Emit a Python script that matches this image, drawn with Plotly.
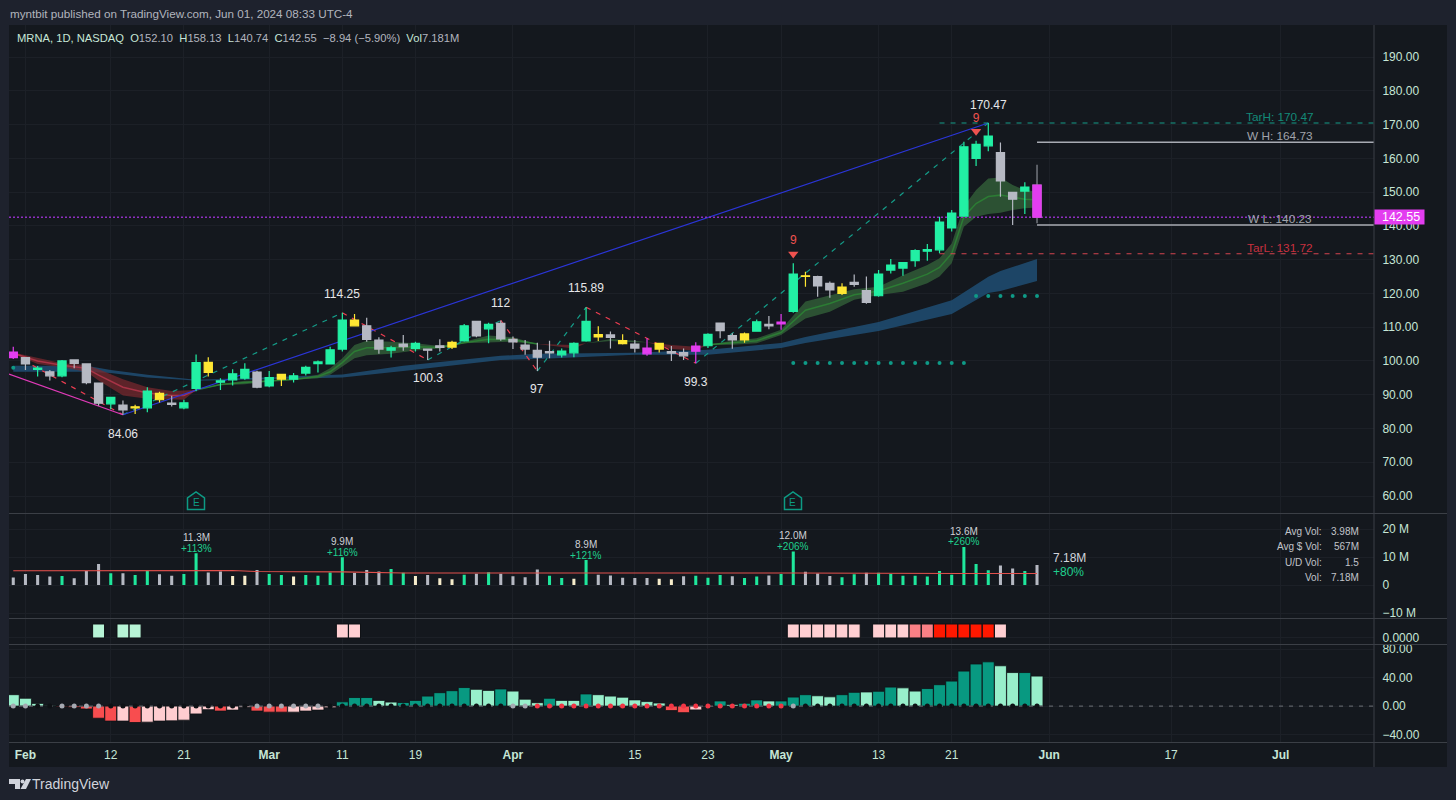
import plotly.graph_objects as go

W, H = 1456, 800
def px(x): return x / W
def py(y): return 1 - y / H

# ---------- data ----------
body_top = [102.6,101.0,97.9,96.8,100.0,100.3,99.1,93.4,89.2,86.9,86.4,91.1,90.4,87.5,87.6,99.5,99.6,94.1,96.2,97.5,96.7,95.1,96.0,95.6,98.1,99.7,103.3,
            112.1,112.1,110.4,106.2,103.9,105.0,105.2,103.5,104.5,105.5,110.4,111.7,110.8,111.1,106.4,104.7,103.1,102.8,102.9,105.2,111.7,107.8,107.7,106.0,105.0,103.8,105.2,102.8,102.5,104.4,
            107.9,111.2,107.5,108.0,111.6,110.8,111.5,125.7,125.2,125.0,123.0,121.9,123.3,120.8,125.7,128.4,129.1,132.7,133.0,141.1,143.8,163.4,164.1,166.6,161.7,149.9,151.5,152.1]
body_bot = [101.0,99.1,97.5,95.6,95.6,99.3,93.6,87.5,87.3,85.5,86.1,86.1,88.5,87.1,86.1,91.9,96.6,93.7,94.4,94.9,92.2,92.6,94.6,94.6,96.4,99.2,99.1,
            103.5,110.4,106.4,103.5,103.2,104.2,103.7,103.2,104.0,104.1,105.9,107.4,109.5,106.5,105.6,103.5,101.1,102.4,101.8,102.4,105.9,107.1,107.0,105.1,103.8,102.1,103.5,102.3,101.5,102.9,
            104.5,109.0,106.2,106.2,108.8,110.4,111.0,114.7,125.0,122.2,121.0,120.0,122.7,117.3,119.3,126.9,127.5,129.7,132.5,132.9,139.4,142.9,160.0,163.7,153.3,147.9,150.3,142.55]
highs = [104.2,101.1,98.5,97.3,100.3,100.5,99.3,93.6,89.3,88.3,87.0,92.2,90.9,89.7,88.5,101.9,101.1,94.9,97.5,99.3,97.1,97.0,96.1,96.4,98.6,100.1,104.2,
         114.25,113.9,112.8,107.0,104.5,107.7,105.7,103.7,106.4,106.0,110.9,111.8,111.3,112.0,107.2,106.2,105.4,106.0,103.7,105.5,115.89,110.3,108.7,107.9,106.2,106.7,105.2,104.4,103.7,105.5,
         108.2,111.4,108.2,108.4,112.3,113.3,113.9,128.9,126.4,125.2,123.5,123.0,125.6,125.0,126.9,130.2,129.1,133.1,134.6,142.7,144.7,164.9,165.2,170.47,164.7,150.1,152.9,158.13]
lows = [100.6,97.3,95.4,94.2,95.2,97.8,93.1,86.7,85.7,84.06,84.3,84.8,87.7,86.5,85.7,91.0,95.4,91.4,92.7,94.4,91.9,92.2,92.6,93.6,95.7,96.6,99.1,
        102.8,110.2,105.7,102.1,101.0,103.0,102.8,100.3,102.8,103.5,105.7,107.0,105.2,106.0,103.5,101.8,97.0,100.8,101.0,101.1,105.7,105.9,103.7,104.9,102.5,101.5,102.5,100.0,100.3,99.3,
        103.8,106.7,103.6,105.4,108.7,109.4,109.2,114.3,122.0,119.0,118.7,119.5,122.0,116.9,119.0,125.9,125.2,127.9,129.7,131.9,138.3,142.9,157.7,162.1,148.6,140.23,143.5,140.74]
candle_kind = [
    "m","s","g","s","g","s","s","s","g","s","y","g","y","s","g","g","y","g","g","g","s","g","y","g","g","g","g",
    "g","y","s","s","g","s","g","s","s","y","g","s","g","s","s","s","s","s","g","g","g","y","s","y","s","m","y","s","s","m",
    "g","s","s","y","g","s","m","g","y","s","s","y","s","s","g","g","g","g","g","g","g","g","g","g","s","s","g","m"]

volume_m = [2.7,3.9,3.6,3.0,3.2,2.4,5.0,7.5,4.2,4.2,3.6,5.1,3.8,3.3,3.9,11.3,4.5,4.8,3.2,3.3,5.4,3.9,3.6,3.0,3.6,3.3,4.5,9.9,4.3,5.4,4.8,5.7,4.4,3.2,3.6,2.4,2.1,3.7,4.0,4.6,4.0,3.1,
            2.8,5.5,3.3,2.5,2.2,8.9,3.7,3.4,2.6,2.5,2.5,2.2,2.1,3.1,3.3,2.6,3.6,3.1,2.5,3.0,3.4,3.9,12.0,4.7,4.1,3.2,2.8,3.8,4.4,4.4,3.9,3.3,3.3,3.0,5.0,3.7,13.6,7.5,5.3,7.0,5.9,5.0,7.18]
volume_kind = ["s","s","s","s","g","s","s","s","g","s","g","g","s","s","g","g","s","s","c","c","s","g","g","c","g","g","g","g","s","s","s","g","g","c","s","c","c","g","s","g","s","s",
               "s","s","g","g","c","g","s","s","s","s","s","c","c","s","g","g","g","s","g","g","s","g","g","s","s","s","g","g","s","g","g","g","g","g","g","g","g","g","g","s","s","g","s"]
avg_vol_x = [0,15,18,20,27,32,47,64,78,84]
avg_vol_m = [5.1,5.4,5.2,4.8,4.7,4.3,4.4,4.3,4.1,4.1]

vol_notes_x = [15,27,47,64,78]
vol_notes_size = ["11.3M","9.9M","8.9M","12.0M","13.6M"]
vol_notes_pct = ["+113%","+116%","+121%","+206%","+260%"]
vol_notes_y = [11.3,9.9,8.9,12.0,13.6]

heat_x = [7,9,10,27,28,64,65,66,67,68,69,71,72,73,74,75,76,77,78,79,80,81]
heat_kind = ["a","a","a","p","p","p","p","p","p","p","p","p","p","p","m","m","r","r","r","r","r","p"]

momentum = [16,11,3.8,1,-1,-2,-4,-17,-21,-21,-23,-22.5,-21,-20.7,-19.7,-11,-5,-7,-5.6,-2,-7,-8.5,-8.5,-8.5,-7,-5.6,-2.3,
            6,12,12,8,5.6,5,8,14,18.8,21.6,26,23.5,22,24,21,
            9.7,4.8,11,8,8,17,16,14,12.5,8.7,6.3,4.3,-6.3,-9.2,-5.3,-0.8,7.2,2.4,3.9,8.7,7.2,7.2,12.6,16,14.5,13,16,19.3,19.8,20.8,26.6,25.6,21,24.6,30,35,49,59,62,56.5,47,47,42]
momentum_kind = ["l","l","l","l","r","r","r","r","r","p","r","p","p","p","p","p","p","r","p","p","r","r","r","p","p","p","p",
                 "d","d","d","l","l","d","d","d","d","d","d","l","l","d","l",
                 "l","l","d","l","l","d","l","l","l","l","l","l","r","r","p","p","d","l","d","d","l","d","d","d","l","l","d","d","l","d","d","l","l","d","d","d","d","d","d","l","l","d","l"]
dot_gray_x = [0,1,4,5,6,7,20,21,22,23,24,25,41,42,64]
dot_red_x = list(range(43,64))
dot_black_x = [2,3,8,9,10,11,12,13,14,15,16,17,18,19,26,27,28,29,30,31,32,33,34,35,36,37,38,39,40,65,66,67,68,69,70,71,72,73,74,75,76,77,78,79,80,81,82,83,84]

blue_x = [0,6,8,11,14,15,20,27,32,40,43,51,57,63,65,71,77,80,81,84]
blue_up = [98.6,98.6,97.3,95.9,94.8,94.4,95.0,96.0,98.6,101.5,102.1,102.4,103.3,105.3,107.1,111.5,118.0,124.9,126.6,130.2]
blue_lo = [96.8,96.8,96.4,95.1,94.4,94.1,94.5,95.1,97.0,100.3,100.6,101.8,101.8,103.8,105.3,108.9,113.9,120.1,120.7,123.7]

red1_x = [0,2,4,6,7,9,11,13,14,15]
red1_up = [102.5,100.8,99.3,98.8,97.5,94.6,92.2,91.1,91.2,91.4]
red1_lo = [102.1,99.1,98.1,96.8,94.2,89.8,88.8,88.5,88.5,91.4]
red1_mid = [102.3,100.0,98.7,97.8,95.8,92.2,90.5,89.8,89.8,91.4]
red2_x = [43,46,47]
red2_up = [105.0,104.7,105.2]
red2_lo = [105.0,103.7,105.2]
red3_x = [52,54,56,57]
red3_up = [105.5,104.7,104.2,104.8]
red3_lo = [105.5,103.5,103.1,104.8]

green1_x = [15,17,19,21,23,25,26,27,28,29,31,33,35,37,39,41,42,43]
green1_up = [91.4,93.2,94.1,94.2,94.6,95.9,97.8,100.8,104.7,106.0,105.7,105.2,104.4,105.7,107.5,107.0,106.0,105.0]
green1_lo = [91.4,92.8,93.1,93.9,94.4,94.9,95.9,98.3,100.8,101.7,102.1,103.1,103.7,105.2,105.4,105.7,105.2,105.0]
green1_mid = [91.4,93.0,93.6,94.0,94.5,95.4,96.8,99.5,102.8,103.9,103.9,104.2,104.0,105.4,106.4,106.3,105.6,105.0]
green2_x = [47,49,51,52]
green2_up = [105.2,106.5,106.0,105.5]
green2_lo = [105.2,105.9,105.5,105.5]
green3_x = [57,59,61,63,65,67,69,71,73,75,76,77,78,79,80,81,82,83,84]
green3_up = [104.8,106.0,106.7,109.2,117.6,119.5,121.2,122.0,125.4,128.4,130.4,134.8,145.7,150.6,154.0,154.3,152.1,150.6,150.1]
green3_lo = [104.8,104.8,105.2,107.7,112.6,114.6,118.1,119.5,120.5,123.0,125.0,128.9,139.7,142.7,143.5,143.9,144.7,145.2,145.4]
green3_mid = [104.8,105.4,106.0,108.4,115.0,117.0,119.6,120.7,123.0,125.7,127.7,131.8,142.7,146.6,148.7,149.1,148.4,147.9,147.7]

pivot_up = [[9,27,84.06,114.25],[34,40,100.3,112.0],[43,47,97.0,115.89],[56,80,99.3,170.47]]
pivot_dn = [[0,9,101.8,84.06],[27,34,114.25,100.3],[40,43,112.0,97.0],[47,56,115.89,99.3]]
trend_x = [9,80]
trend_y = [84.06,170.47]
fall_x = [-0.35,9]
fall_y = [96.1,84.06]

dots_x = [0]+list(range(64,79))+list(range(79,85))
dots_y = [98.0]+[99.4]*15+[119.2]*6

X_MIN, X_MAX = -0.35, 111.65

month_ticks = [1,8,14,21,27,33,41,51,57,63,71,77,85,95,104]
month_text = ["<b>Feb</b>","12","21","<b>Mar</b>","11","19","<b>Apr</b>","15","23","<b>May</b>","13","21","<b>Jun</b>","17","<b>Jul</b>"]
price_ticks = [60,70,80,90,100,110,120,130,140,150,160,170,180,190]
pivot_labels = [(9,84.06,"84.06",-19),(27,114.25,"114.25",19),(34,100.3,"100.3",-18),(40,112.0,"112",17),(43,97.0,"97",-18),(47,115.89,"115.89",19),(56,99.3,"99.3",-19),(80,170.47,"170.47",18)]

# ---------- style ----------
FONT = "Liberation Sans, Arial, sans-serif"
OUTER, PANEL, GRID, SEP = "#1e222d", "#14181e", "#1c2027", "#3b3f46"
AXTXT = "#c6e6d6"
GREEN, GRAY, YELLOW, MAGENTA, CREAM = "#22f0a4", "#b6b9c3", "#ffe733", "#e33df0", "#f6eccb"
CANDLE = {"g": GREEN, "s": GRAY, "y": YELLOW, "m": MAGENTA}
VOLC = {"g": "#1fe79c", "s": GRAY, "c": CREAM}
HEATC = {"a": "#b7f4d6", "p": "#ffcfd2", "m": "#fa8085", "r": "#ff1800"}
MOMC = {"l": "#98efcb", "d": "#089981", "r": "#f84d4f", "p": "#ffcdd0"}
DUP, DDN = "#149c88", "#f03e52"

fig = go.Figure()

def ribbon(x, up, lo, fill, yaxis="y"):
    fig.add_trace(go.Scatter(x=x, y=up, mode="lines", line=dict(width=0, color=fill), hoverinfo="skip", showlegend=False, yaxis=yaxis))
    fig.add_trace(go.Scatter(x=x, y=lo, mode="lines", line=dict(width=0, color=fill), fill="tonexty", fillcolor=fill, hoverinfo="skip", showlegend=False, yaxis=yaxis))

ribbon(blue_x, blue_up, blue_lo, "rgba(31,81,120,0.8)")
REDF, GREENF = "rgba(122,40,46,0.72)", "rgba(54,104,60,0.72)"
ribbon(red1_x, red1_up, red1_lo, REDF)
ribbon(red2_x, red2_up, red2_lo, REDF)
ribbon(red3_x, red3_up, red3_lo, REDF)
ribbon(green1_x, green1_up, green1_lo, GREENF)
ribbon(green2_x, green2_up, green2_lo, GREENF)
ribbon(green3_x, green3_up, green3_lo, GREENF)
for xs, ys, c in [(red1_x, red1_mid, "#a83346"), (green1_x, green1_mid, "#2c7c34"), (green3_x, green3_mid, "#2c7c34")]:
    fig.add_trace(go.Scatter(x=xs, y=ys, mode="lines", line=dict(color=c, width=1.5), hoverinfo="skip", showlegend=False))

for p in pivot_up:
    fig.add_trace(go.Scatter(x=p[:2], y=p[2:], mode="lines", line=dict(color=DUP, width=1.2, dash="5px,6px"), hoverinfo="skip", showlegend=False))
for p in pivot_dn:
    fig.add_trace(go.Scatter(x=p[:2], y=p[2:], mode="lines", line=dict(color=DDN, width=1.2, dash="5px,6px"), hoverinfo="skip", showlegend=False))
fig.add_trace(go.Scatter(x=trend_x, y=trend_y, mode="lines", line=dict(color="#2b35d8", width=1.2), hoverinfo="skip", showlegend=False))
fig.add_trace(go.Scatter(x=fall_x, y=fall_y, mode="lines", line=dict(color="#e03ab8", width=1.2), hoverinfo="skip", showlegend=False))
fig.add_trace(go.Scatter(x=dots_x, y=dots_y, mode="markers", marker=dict(color="#0f9a87", size=4), hoverinfo="skip", showlegend=False))

# horizontal levels
levels = [(76, X_MAX, 170.47, "#149c88", "5px,6px", 1.1), (76, X_MAX, 131.72, "#d2434f", "5px,6px", 1.1),
          (84, X_MAX, 164.73, "#a8abb3", "solid", 1.5), (84, X_MAX, 140.23, "#a8abb3", "solid", 1.5),
          (X_MIN, X_MAX, 142.55, "#8e2fc0", "2px,2px", 1.4)]
for x0, x1, v, c, d, w in levels:
    fig.add_trace(go.Scatter(x=[x0, x1], y=[v, v], mode="lines", line=dict(color=c, width=w, dash=d), hoverinfo="skip", showlegend=False))

# candles, on an overlay axis so they sit above the ribbons
for kind, col in CANDLE.items():
    idx = [i for i, k in enumerate(candle_kind) if k == kind and i != 84]
    fig.add_trace(go.Candlestick(
        x=idx, open=[body_bot[i] for i in idx], close=[body_top[i] for i in idx],
        high=[highs[i] for i in idx], low=[lows[i] for i in idx],
        increasing=dict(line=dict(color=col, width=1.2), fillcolor=col),
        decreasing=dict(line=dict(color=col, width=1.2), fillcolor=col),
        whiskerwidth=0, yaxis="y5", showlegend=False, hoverinfo="skip"))
last = [84]
fig.add_trace(go.Candlestick(x=last, open=[body_top[84]], close=[body_bot[84]], high=[highs[84]], low=[lows[84]],
    decreasing=dict(line=dict(color="#8a8d96", width=1.2), fillcolor=MAGENTA),
    increasing=dict(line=dict(color="#8a8d96", width=1.2), fillcolor=MAGENTA),
    whiskerwidth=0, yaxis="y5", showlegend=False, hoverinfo="skip"))
fig.add_trace(go.Candlestick(x=last, open=[body_top[84]], close=[body_bot[84]], high=[body_top[84]], low=[body_bot[84]],
    decreasing=dict(line=dict(color=MAGENTA, width=1.2), fillcolor=MAGENTA),
    increasing=dict(line=dict(color=MAGENTA, width=1.2), fillcolor=MAGENTA),
    whiskerwidth=0, yaxis="y5", showlegend=False, hoverinfo="skip"))

# sell-setup markers
fig.add_trace(go.Scatter(x=[64, 79], y=[131.7, 168.0], mode="markers+text", text=["9", "9"], textposition="top center",
                         textfont=dict(color="#f0524f", size=12, family=FONT),
                         marker=dict(symbol="triangle-down", color="#f0524f", size=9), yaxis="y5", hoverinfo="skip", showlegend=False))

# volume pane
all_x = list(range(len(volume_m)))
fig.add_trace(go.Bar(x=all_x, y=volume_m, marker=dict(color=[VOLC[k] for k in volume_kind], line_width=0), width=0.25, yaxis="y2", hoverinfo="skip", showlegend=False))
fig.add_trace(go.Scatter(x=avg_vol_x, y=avg_vol_m, mode="lines", line=dict(color="#e2504c", width=1.1), yaxis="y2", hoverinfo="skip", showlegend=False))

# heat strip
fig.add_trace(go.Bar(x=heat_x, y=[1]*len(heat_x), marker=dict(color=[HEATC[k] for k in heat_kind], line=dict(color="#0e1115", width=1)), width=0.98, yaxis="y3", hoverinfo="skip", showlegend=False))

# momentum pane
fig.add_trace(go.Bar(x=all_x, y=momentum, marker=dict(color=[MOMC[k] for k in momentum_kind], line=dict(color="#0e1115", width=0.8)), width=0.98, yaxis="y4", hoverinfo="skip", showlegend=False))
fig.add_trace(go.Scatter(x=[X_MIN, X_MAX], y=[0, 0], mode="lines", line=dict(color="#6d7178", width=1, dash="4px,6px"), yaxis="y4", hoverinfo="skip", showlegend=False))
for xs, c in [(dot_black_x, "#0e1115"), (dot_gray_x, "#a6a9b2"), (dot_red_x, "#f23645")]:
    fig.add_trace(go.Scatter(x=xs, y=[0]*len(xs), mode="markers", marker=dict(color=c, size=5), yaxis="y4", hoverinfo="skip", showlegend=False))

# ---------- annotations ----------
ann = []
def label(x, y, text, color="#d1d4dc", size=12, xanchor="center", bg=None):
    ann.append(dict(x=px(x), y=py(y), xref="paper", yref="paper", text=text, showarrow=False, xanchor=xanchor, yanchor="middle",
                    font=dict(color=color, size=size, family=FONT), bgcolor=bg, borderpad=0))
label(9, 14, "myntbit published on TradingView.com, Jun 01, 2024 08:33 UTC-4", "#b2b5be", 11.66, "left")
M = AXTXT
legend = (f"<span style='color:{M}'>MRNA, 1D, NASDAQ</span>&nbsp; <span style='color:{M}'>O</span>152.10&nbsp; <span style='color:{M}'>H</span>158.13&nbsp; "
          f"<span style='color:{M}'>L</span>140.74&nbsp; <span style='color:{M}'>C</span>142.55&nbsp; −8.94 (−5.90%)&nbsp; <span style='color:{M}'>Vol</span>7.181M")
label(16, 38.5, legend, "#b2b5be", 11.2, "left")
for lx, ly, t, c in [(1280, 117, "TarH: 170.47", "#138a78"), (1280, 136, "W H: 164.73", "#a0a3ab"), (1280, 219, "W L: 140.23", "#a0a3ab"), (1280, 248, "TarL: 131.72", "#c8303e")]:
    label(lx, ly, t, c, 11.8)
for x, y, t, ys in pivot_labels:
    ann.append(dict(x=x, y=y, xref="x", yref="y", text=t, showarrow=False, yshift=ys, font=dict(color="#e6e7ea", size=12, family=FONT)))
for x, v, s, p in zip(vol_notes_x, vol_notes_y, vol_notes_size, vol_notes_pct):
    ann.append(dict(x=x, y=v, xref="x", yref="y2", text=p, showarrow=False, yshift=5, font=dict(color="#1fd08e", size=10, family=FONT)))
    ann.append(dict(x=x, y=v, xref="x", yref="y2", text=s, showarrow=False, yshift=15.5, font=dict(color="#cfd1d6", size=10, family=FONT)))
label(1052, 558, "7.18M", "#d1d4dc", 12, "left")
label(1052, 571.5, "+80%", "#1fd08e", 12, "left")
for yy, a, b in [(531, "Avg Vol:", "3.98M"), (546.5, "Avg $ Vol:", "567M"), (562, "U/D Vol:", "1.5"), (577.5, "Vol:", "7.18M")]:
    label(1323, yy, a, "#c2c4ca", 10, "right")
    label(1360, yy, b, "#c2c4ca", 10, "right")
label(1374, 216.5, "  142.55 ", "#ffffff", 12.5, "left", bg=MAGENTA)
label(31, 784, "TradingView", "#d1d4dc", 14, "left")
for ex in (196, 793):
    label(ex, 502.5, "E", "#0d9a84", 10)

# ---------- shapes ----------
shapes = [dict(type="rect", xref="paper", yref="paper", x0=px(9), x1=px(1447), y0=py(767), y1=py(25), fillcolor=PANEL, line_width=0, layer="below")]
def hline(y):
    shapes.append(dict(type="line", xref="paper", yref="paper", x0=px(9), x1=px(1447), y0=py(y), y1=py(y), line=dict(color=SEP, width=1)))
for y in (513.5, 618.5, 644.5, 742.5):
    hline(y)
shapes.append(dict(type="line", xref="paper", yref="paper", x0=px(1374), x1=px(1374), y0=py(767), y1=py(25), line=dict(color=SEP, width=1)))
def path(points):
    return "M" + " L".join(f"{px(a):.5f},{py(b):.5f}" for a, b in points) + " Z"
for ex in (196, 793):
    shapes.append(dict(type="path", xref="paper", yref="paper", path=path([(ex-8.5, 509.5), (ex-8.5, 498), (ex, 492), (ex+8.5, 498), (ex+8.5, 509.5)]), line=dict(color="#0d9a84", width=1.5), fillcolor="rgba(0,0,0,0)"))
# TradingView mark
for pts in ([(9, 779), (20, 779), (20, 789), (15, 789), (15, 784), (9, 784)], [(26, 779), (31, 779), (26, 789), (20.5, 789)]):
    shapes.append(dict(type="path", xref="paper", yref="paper", path=path(pts), fillcolor="#d1d4dc", line_width=0))
shapes.append(dict(type="circle", xref="paper", yref="paper", x0=px(20.5), x1=px(24.5), y0=py(783.5), y1=py(779.5), fillcolor="#d1d4dc", line_width=0))

# ---------- layout ----------
def yax(dom_top, dom_bot, rng, **kw):
    d = dict(domain=[py(dom_bot), py(dom_top)], range=rng, side="right", anchor="x", gridcolor=GRID, gridwidth=1, zeroline=False,
             ticks="outside", ticklen=5, tickcolor=PANEL, showline=False, tickfont=dict(color=AXTXT, size=12, family=FONT), fixedrange=True)
    d.update(kw)
    return d

PRICE_RANGE = [54.82, 199.48]
fig.update_layout(
    width=W, height=H, margin=dict(l=0, r=0, t=0, b=0, autoexpand=False), autosize=False,
    paper_bgcolor=OUTER, plot_bgcolor=PANEL, showlegend=False, boxgap=0.33, boxgroupgap=0, barmode="overlay",
    xaxis=dict(domain=[px(9), px(1374)], range=[X_MIN, X_MAX], anchor="y4", tickmode="array", tickvals=month_ticks, ticktext=month_text,
               gridcolor=GRID, zeroline=False, showline=False, ticks="outside", ticklen=1, tickcolor=PANEL,
               tickfont=dict(color=AXTXT, size=12, family=FONT), rangeslider=dict(visible=False), fixedrange=True),
    yaxis=yax(25, 513.5, PRICE_RANGE, tickmode="array", tickvals=price_ticks, ticktext=[f"{v:.2f}" for v in price_ticks]),
    yaxis5=dict(overlaying="y", range=PRICE_RANGE, visible=False, side="right", anchor="x", fixedrange=True),
    yaxis2=yax(514, 618.5, [-11.96, 25.36], tickmode="array", tickvals=[-10, 0, 10, 20], ticktext=["−10 M", "0", "10 M", "20 M"]),
    yaxis3=yax(619, 644, [-0.43, 1.357], tickmode="array", tickvals=[0], ticktext=["0.0000"]),
    yaxis4=yax(645, 742.5, [-51, 85.6], tickmode="array", tickvals=[-40, 0, 40, 80], ticktext=["−40.00", "0.00", "40.00", "80.00"]),
    annotations=ann, shapes=shapes,
)
fig.write_html("out.html", config=dict(displayModeBar=False), post_script="document.body.style.margin='0';")
